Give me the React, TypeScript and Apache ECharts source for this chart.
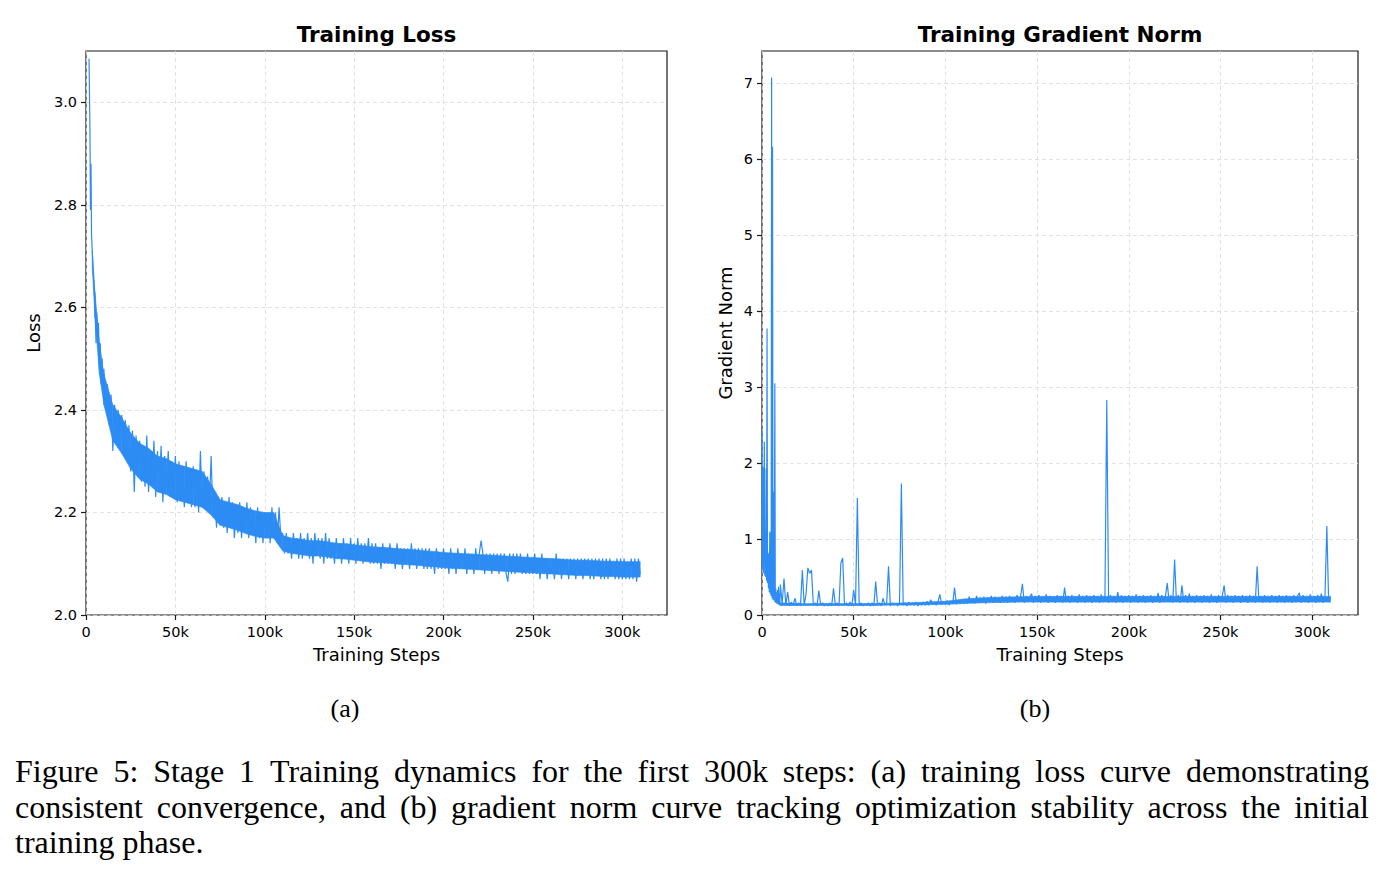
import React, { useEffect, useRef } from "react";
import * as echarts from "echarts";

// ---------- tick labels ----------
const X_TICKS = [0, 50000, 100000, 150000, 200000, 250000, 300000];
const LOSS_Y_TICKS = [2.0, 2.2, 2.4, 2.6, 2.8, 3.0];
const GRAD_Y_TICKS = [0, 1, 2, 3, 4, 5, 6, 7];

// ---------- titles / texts ----------
const TITLE_LOSS = "Training Loss";
const TITLE_GRAD = "Training Gradient Norm";
const X_NAME = "Training Steps";
const Y_NAME_LOSS = "Loss";
const Y_NAME_GRAD = "Gradient Norm";
const SUB_A = "(a)";
const SUB_B = "(b)";
const CAPTION_LINES = [
  "Figure 5: Stage 1 Training dynamics for the first 300k steps: (a) training loss curve demonstrating",
  "consistent convergence, and (b) gradient norm curve tracking optimization stability across the initial",
  "training phase.",
];

// ---------- loss data ----------
const lossEarlySteps = [1700, 2200, 2500, 2800, 3100, 3500, 4000, 4500, 5000, 5600, 6000, 6500, 7000, 7500, 8000, 8500, 9000, 9500];
const lossEarlyValues = [3.085, 2.95, 2.79, 2.88, 2.74, 2.71, 2.67, 2.64, 2.61, 2.53, 2.59, 2.54, 2.57, 2.48, 2.53, 2.45, 2.5, 2.43];
const lossRegularStart = 10000;
const lossRegularStep = 1000;
const lossValues = [
  2.48, 2.40, 2.45, 2.37, 2.43, 2.32, 2.41, 2.34, 2.40, 2.33,
  2.39, 2.31, 2.38, 2.30, 2.37, 2.28, 2.36, 2.24, 2.35, 2.27,
  2.34, 2.26, 2.33, 2.25, 2.35, 2.24, 2.32, 2.26, 2.34, 2.23,
  2.32, 2.24, 2.33, 2.22, 2.31, 2.25, 2.32, 2.23, 2.30, 2.24,
  2.31, 2.22, 2.30, 2.23, 2.29, 2.21, 2.30, 2.22, 2.28, 2.21,
  2.29, 2.21, 2.28, 2.20, 2.32, 2.21, 2.28, 2.22, 2.27, 2.21,
  2.31, 2.19, 2.24, 2.17, 2.23, 2.18, 2.23, 2.17, 2.22, 2.16,
  2.23, 2.17, 2.22, 2.15, 2.21, 2.16, 2.22, 2.15, 2.21, 2.16,
  2.22, 2.15, 2.21, 2.16, 2.20, 2.14, 2.21, 2.15, 2.20, 2.14,
  2.20, 2.15, 2.20, 2.14, 2.21, 2.15, 2.20, 2.14, 2.21, 2.15,
  2.16, 2.12, 2.16, 2.12, 2.15, 2.11, 2.16, 2.12, 2.15, 2.11,
  2.16, 2.11, 2.15, 2.12, 2.16, 2.11, 2.15, 2.10, 2.16, 2.12,
  2.15, 2.11, 2.15, 2.10, 2.16, 2.11, 2.15, 2.11, 2.14, 2.10,
  2.15, 2.11, 2.14, 2.10, 2.15, 2.11, 2.14, 2.10, 2.15, 2.11,
  2.14, 2.10, 2.15, 2.11, 2.14, 2.10, 2.14, 2.11, 2.15, 2.10,
  2.14, 2.10, 2.14, 2.10, 2.13, 2.09, 2.14, 2.10, 2.13, 2.10,
  2.14, 2.10, 2.13, 2.09, 2.14, 2.10, 2.13, 2.09, 2.13, 2.10,
  2.13, 2.09, 2.14, 2.10, 2.13, 2.09, 2.13, 2.10, 2.13, 2.09,
  2.13, 2.09, 2.13, 2.09, 2.12, 2.08, 2.13, 2.09, 2.12, 2.09,
  2.13, 2.09, 2.12, 2.08, 2.13, 2.09, 2.12, 2.08, 2.13, 2.09,
  2.12, 2.09, 2.13, 2.08, 2.12, 2.09, 2.12, 2.08, 2.13, 2.09,
  2.12, 2.145, 2.12, 2.08, 2.12, 2.09, 2.12, 2.08, 2.12, 2.09,
  2.12, 2.08, 2.12, 2.09, 2.12, 2.08, 2.065, 2.12, 2.08, 2.12,
  2.08, 2.12, 2.09, 2.12, 2.08, 2.11, 2.08, 2.12, 2.08, 2.11,
  2.08, 2.12, 2.08, 2.11, 2.07, 2.12, 2.08, 2.11, 2.07, 2.11,
  2.08, 2.11, 2.07, 2.12, 2.08, 2.11, 2.07, 2.11, 2.08, 2.11,
  2.07, 2.11, 2.08, 2.11, 2.07, 2.11, 2.08, 2.11, 2.07, 2.11,
  2.08, 2.11, 2.07, 2.11, 2.07, 2.11, 2.08, 2.11, 2.07, 2.11,
  2.07, 2.11, 2.07, 2.11, 2.08, 2.10, 2.07, 2.11, 2.07, 2.11,
  2.07, 2.11, 2.07, 2.10, 2.07, 2.11, 2.07, 2.11, 2.065, 2.11, 2.08,
];
// dense core of the noisy loss band
const lossBandEarlySteps = [3500, 5000, 7500];
const lossBandEarlyLow = [2.68, 2.58, 2.47];
const lossBandEarlyHigh = [2.71, 2.63, 2.53];
const lossBandStart = 10000;
const lossBandStep = 5000;
const lossBandLow = [
  2.41, 2.34, 2.315, 2.285, 2.265, 2.255, 2.24, 2.235, 2.225, 2.22,
  2.215, 2.21, 2.195, 2.175, 2.17, 2.165, 2.158, 2.153, 2.15, 2.15,
  2.125, 2.12, 2.118, 2.115, 2.115, 2.113, 2.11, 2.109, 2.107, 2.105,
  2.103, 2.102, 2.101, 2.099, 2.098, 2.097, 2.095, 2.094, 2.092, 2.091,
  2.09, 2.089, 2.088, 2.087, 2.086, 2.085, 2.084, 2.083, 2.082, 2.081,
  2.08, 2.079, 2.078, 2.077, 2.077, 2.076, 2.075, 2.075, 2.074, 2.074, 2.074,
];
const lossBandHigh = [
  2.47, 2.41, 2.385, 2.355, 2.335, 2.325, 2.31, 2.305, 2.295, 2.29,
  2.285, 2.28, 2.255, 2.225, 2.22, 2.215, 2.208, 2.203, 2.20, 2.20,
  2.155, 2.15, 2.148, 2.145, 2.145, 2.143, 2.14, 2.139, 2.137, 2.135,
  2.133, 2.132, 2.131, 2.129, 2.128, 2.127, 2.125, 2.124, 2.122, 2.121,
  2.12, 2.119, 2.118, 2.117, 2.116, 2.115, 2.114, 2.113, 2.112, 2.111,
  2.11, 2.109, 2.108, 2.107, 2.107, 2.106, 2.105, 2.105, 2.104, 2.104, 2.104,
];

// ---------- gradient norm data ----------
const gradEarlySteps = [
  0, 250, 500, 750, 1000, 1250, 1500, 1750, 2000, 2250,
  2500, 2750, 3000, 3250, 3500, 3750, 4000, 4250, 4500, 4750,
  5000, 5250, 5500, 5750, 6000, 6250, 6500, 6750, 7000, 7250,
  7500, 7750, 8000, 8250, 8500, 8750, 9000, 9250, 9500, 9750,
];
const gradEarlyValues = [
  2.44, 0.6, 1.95, 0.55, 1.12, 2.28, 0.52, 1.1, 0.5, 1.93,
  0.45, 3.77, 0.42, 0.8, 0.35, 0.82, 0.3, 1.1, 0.28, 1.08,
  0.25, 7.07, 0.22, 6.16, 0.2, 1.62, 0.19, 0.45, 3.05, 0.18,
  0.35, 0.17, 0.3, 0.16, 0.33, 0.15, 0.37, 0.16, 0.28, 0.15,
];
const gradRegularStart = 10000;
const gradRegularStep = 1000;
const gradValues = [
  0.40, 0.15, 0.48, 0.13, 0.30, 0.12, 0.17, 0.13, 0.22, 0.12,
  0.16, 0.12, 0.59, 0.13, 0.27, 0.62, 0.55, 0.59, 0.13, 0.16,
  0.12, 0.32, 0.13, 0.16, 0.12, 0.15, 0.12, 0.16, 0.12, 0.35,
  0.13, 0.16, 0.12, 0.68, 0.75, 0.13, 0.16, 0.12, 0.17, 0.12,
  0.33, 0.13, 1.54, 0.12, 0.16, 0.12, 0.15, 0.13, 0.16, 0.12,
  0.16, 0.12, 0.44, 0.13, 0.16, 0.12, 0.22, 0.13, 0.16, 0.64,
  0.12, 0.16, 0.13, 0.15, 0.12, 0.16, 1.73, 0.13, 0.16, 0.12,
  0.17, 0.13, 0.16, 0.13, 0.17, 0.12, 0.16, 0.13, 0.17, 0.13,
  0.18, 0.13, 0.20, 0.14, 0.17, 0.13, 0.18, 0.27, 0.14, 0.18,
  0.14, 0.19, 0.13, 0.18, 0.15, 0.36, 0.14, 0.19, 0.15, 0.20,
  0.15, 0.21, 0.15, 0.24, 0.16, 0.22, 0.15, 0.25, 0.16, 0.23,
  0.16, 0.24, 0.15, 0.23, 0.17, 0.25, 0.16, 0.24, 0.17, 0.23,
  0.16, 0.25, 0.17, 0.24, 0.16, 0.25, 0.17, 0.23, 0.16, 0.26,
  0.17, 0.24, 0.41, 0.16, 0.25, 0.17, 0.24, 0.28, 0.16, 0.25,
  0.17, 0.26, 0.16, 0.24, 0.17, 0.27, 0.16, 0.25, 0.17, 0.24,
  0.16, 0.26, 0.17, 0.25, 0.16, 0.36, 0.17, 0.25, 0.16, 0.26,
  0.17, 0.24, 0.16, 0.27, 0.17, 0.25, 0.16, 0.26, 0.17, 0.25,
  0.16, 0.26, 0.17, 0.25, 0.16, 0.27, 0.17, 0.25, 2.83, 0.16,
  0.26, 0.17, 0.25, 0.16, 0.30, 0.17, 0.26, 0.16, 0.25, 0.17,
  0.26, 0.16, 0.25, 0.17, 0.27, 0.16, 0.25, 0.17, 0.26, 0.16,
  0.25, 0.17, 0.26, 0.16, 0.25, 0.17, 0.29, 0.16, 0.26, 0.17,
  0.25, 0.42, 0.17, 0.26, 0.16, 0.73, 0.17, 0.26, 0.16, 0.39,
  0.17, 0.26, 0.16, 0.28, 0.17, 0.25, 0.16, 0.26, 0.17, 0.25,
  0.16, 0.26, 0.17, 0.25, 0.16, 0.27, 0.17, 0.25, 0.16, 0.26,
  0.17, 0.25, 0.39, 0.16, 0.26, 0.17, 0.25, 0.16, 0.26, 0.17,
  0.25, 0.16, 0.26, 0.17, 0.25, 0.16, 0.26, 0.17, 0.25, 0.16,
  0.64, 0.17, 0.25, 0.16, 0.26, 0.17, 0.25, 0.16, 0.26, 0.17,
  0.25, 0.16, 0.26, 0.17, 0.25, 0.16, 0.26, 0.17, 0.25, 0.16,
  0.26, 0.17, 0.25, 0.29, 0.16, 0.26, 0.17, 0.25, 0.16, 0.27,
  0.17, 0.25, 0.16, 0.26, 0.17, 0.28, 0.16, 0.25, 1.17, 0.17, 0.24,
];
// dense core of the noisy gradient-norm band
const gradBandEarlySteps = [7000];
const gradBandEarlyLow = [0.17];
const gradBandEarlyHigh = [0.22];
const gradBandStart = 10000;
const gradBandStep = 10000;
const gradBandLow = [
  0.125, 0.125, 0.125, 0.125, 0.125, 0.125, 0.13, 0.13, 0.135, 0.14,
  0.15, 0.16, 0.165, 0.17, 0.17, 0.17, 0.17, 0.17, 0.17, 0.17,
  0.17, 0.17, 0.17, 0.17, 0.17, 0.17, 0.17, 0.17, 0.17, 0.17, 0.17,
];
const gradBandHigh = [
  0.16, 0.15, 0.15, 0.15, 0.15, 0.15, 0.155, 0.16, 0.17, 0.18,
  0.21, 0.225, 0.235, 0.24, 0.245, 0.245, 0.245, 0.245, 0.245, 0.245,
  0.245, 0.245, 0.245, 0.245, 0.245, 0.245, 0.245, 0.245, 0.245, 0.245, 0.245,
];

// ---------- style constants ----------
const LINE_COLOR = "#2d8cf4";
const SPINE = "#1a1a1a";
const GRID_COLOR = "#dadada";
const SANS = '"DejaVu Sans", Verdana, sans-serif';
const SERIF = '"Liberation Serif", "Times New Roman", serif';
const TICK_SIZE = 14.5;
const LABEL_SIZE = 18;
const TITLE_SIZE = 21.5;
const CAP_SIZE = 32;
const SUB_SIZE = 26;

function regular(start: number, step: number, vals: number[]) {
  return vals.map((v, i) => [start + i * step, v]);
}

function buildSeries(earlySteps: number[], earlyVals: number[], start: number, step: number, vals: number[]) {
  const out: number[][] = earlySteps.map((s, i) => [s, earlyVals[i]]);
  return out.concat(regular(start, step, vals));
}

// band between two envelopes, drawn as quads through the axis scales
function bandSeries(
  idx: number,
  earlySteps: number[],
  earlyLow: number[],
  earlyHigh: number[],
  start: number,
  step: number,
  low: number[],
  high: number[],
) {
  const data: number[][] = earlySteps
    .map((s, i) => [s, earlyLow[i], earlyHigh[i]])
    .concat(low.map((l, i) => [start + i * step, l, high[i]]));
  return {
    type: "custom",
    xAxisIndex: idx,
    yAxisIndex: idx,
    silent: true,
    z: 1,
    data,
    encode: { x: 0, y: [1, 2] },
    renderItem: (params: any, api: any) => {
      const i = params.dataIndex;
      if (i >= data.length - 1) return null;
      const a = data[i];
      const b = data[i + 1];
      const p1 = api.coord([a[0], a[1]]);
      const p2 = api.coord([b[0], b[1]]);
      const p3 = api.coord([b[0], b[2]]);
      const p4 = api.coord([a[0], a[2]]);
      return {
        type: "polygon",
        shape: { points: [p1, p2, p3, p4] },
        style: { fill: LINE_COLOR, stroke: LINE_COLOR, lineWidth: 0.6 },
      };
    },
  };
}

function kFormatter(v: number) {
  return v === 0 ? "0" : `${Math.round(v / 1000)}k`;
}

function xAxisFor(gridIndex: number) {
  return {
    type: "value",
    gridIndex,
    min: 0,
    max: 325000,
    interval: 50000,
    axisLine: { show: false },
    axisTick: { show: true, inside: false, length: 5, customValues: X_TICKS, lineStyle: { color: SPINE, width: 1.2 } },
    axisLabel: { customValues: X_TICKS, formatter: kFormatter, fontSize: TICK_SIZE, color: "#000", fontFamily: SANS, margin: 9 },
    splitLine: { show: true, lineStyle: { color: GRID_COLOR, type: [4, 3], width: 0.8 } },
    name: X_NAME,
    nameLocation: "middle",
    nameGap: 30,
    nameTextStyle: { fontSize: LABEL_SIZE, color: "#000", fontFamily: SANS },
  };
}

function yAxisFor(gridIndex: number, min: number, max: number, interval: number, ticks: number[], fmt: (v: number) => string, name: string, gap: number) {
  return {
    type: "value",
    gridIndex,
    min,
    max,
    interval,
    axisLine: { show: false },
    axisTick: { show: true, inside: false, length: 5, customValues: ticks, lineStyle: { color: SPINE, width: 1.2 } },
    axisLabel: { customValues: ticks, formatter: fmt, fontSize: TICK_SIZE, color: "#000", fontFamily: SANS, margin: 9 },
    splitLine: { show: true, lineStyle: { color: GRID_COLOR, type: [4, 3], width: 0.8 } },
    name,
    nameLocation: "middle",
    nameRotate: 90,
    nameGap: gap,
    nameTextStyle: { fontSize: LABEL_SIZE, color: "#000", fontFamily: SANS },
  };
}

function captionElements() {
  const els: any[] = [];
  const canvas = document.createElement("canvas");
  const ctx = canvas.getContext("2d")!;
  const font = `${CAP_SIZE}px ${SERIF}`;
  ctx.font = font;
  const left = 15;
  const right = 1369;
  const ys = [771, 807, 842];
  CAPTION_LINES.forEach((line, li) => {
    const words = line.split(" ");
    const widths = words.map((w) => ctx.measureText(w).width);
    const total = widths.reduce((a, b) => a + b, 0);
    const justify = li < CAPTION_LINES.length - 1 && words.length > 1;
    const gap = justify ? (right - left - total) / (words.length - 1) : ctx.measureText(" ").width;
    let x = left;
    words.forEach((w, wi) => {
      els.push({
        type: "text",
        x,
        y: ys[li],
        silent: true,
        style: { text: w, font, fill: "#000", textAlign: "left", textVerticalAlign: "middle" },
      });
      x += widths[wi] + gap;
    });
  });
  return els;
}

export default function App() {
  const ref = useRef<HTMLDivElement>(null);

  useEffect(() => {
    if (!ref.current) return;
    const chart = echarts.init(ref.current, undefined, { renderer: "svg" });

    const lossData = buildSeries(lossEarlySteps, lossEarlyValues, lossRegularStart, lossRegularStep, lossValues);
    const gradData = buildSeries(gradEarlySteps, gradEarlyValues, gradRegularStart, gradRegularStep, gradValues);

    const option: any = {
      animation: false,
      backgroundColor: "#ffffff",
      grid: [
        { left: 86, top: 51, width: 581, height: 564, show: true, borderColor: SPINE, borderWidth: 1.2, backgroundColor: "transparent", containLabel: false },
        { left: 762, top: 51, width: 596, height: 564, show: true, borderColor: SPINE, borderWidth: 1.2, backgroundColor: "transparent", containLabel: false },
      ],
      xAxis: [xAxisFor(0), xAxisFor(1)],
      yAxis: [
        yAxisFor(0, 2.0, 3.1, 0.2, LOSS_Y_TICKS, (v: number) => v.toFixed(1), Y_NAME_LOSS, 44),
        yAxisFor(1, 0, 7.42, 1, GRAD_Y_TICKS, (v: number) => String(Math.round(v)), Y_NAME_GRAD, 28),
      ],
      series: [
        bandSeries(0, lossBandEarlySteps, lossBandEarlyLow, lossBandEarlyHigh, lossBandStart, lossBandStep, lossBandLow, lossBandHigh),
        bandSeries(1, gradBandEarlySteps, gradBandEarlyLow, gradBandEarlyHigh, gradBandStart, gradBandStep, gradBandLow, gradBandHigh),
        {
          type: "line",
          xAxisIndex: 0,
          yAxisIndex: 0,
          data: lossData,
          showSymbol: false,
          silent: true,
          lineStyle: { color: LINE_COLOR, width: 1.2, join: "bevel" },
          clip: true,
          z: 2,
        },
        {
          type: "line",
          xAxisIndex: 1,
          yAxisIndex: 1,
          data: gradData,
          showSymbol: false,
          silent: true,
          lineStyle: { color: LINE_COLOR, width: 1.2, join: "bevel" },
          clip: true,
          z: 2,
        },
      ],
      graphic: [
        {
          type: "text",
          x: 376.5,
          y: 34,
          silent: true,
          style: { text: TITLE_LOSS, font: `bold ${TITLE_SIZE}px ${SANS}`, fill: "#000", textAlign: "center", textVerticalAlign: "middle" },
        },
        {
          type: "text",
          x: 1060,
          y: 34,
          silent: true,
          style: { text: TITLE_GRAD, font: `bold ${TITLE_SIZE}px ${SANS}`, fill: "#000", textAlign: "center", textVerticalAlign: "middle" },
        },
        {
          type: "text",
          x: 345,
          y: 708,
          silent: true,
          style: { text: SUB_A, font: `${SUB_SIZE}px ${SERIF}`, fill: "#000", textAlign: "center", textVerticalAlign: "middle" },
        },
        {
          type: "text",
          x: 1035,
          y: 708,
          silent: true,
          style: { text: SUB_B, font: `${SUB_SIZE}px ${SERIF}`, fill: "#000", textAlign: "center", textVerticalAlign: "middle" },
        },
        ...captionElements(),
      ],
    };

    chart.setOption(option);
    return () => chart.dispose();
  }, []);

  return (
    <div
      ref={ref}
      style={{ position: "fixed", left: 0, top: 0, width: 1384, height: 874, background: "#fff" }}
    />
  );
}
